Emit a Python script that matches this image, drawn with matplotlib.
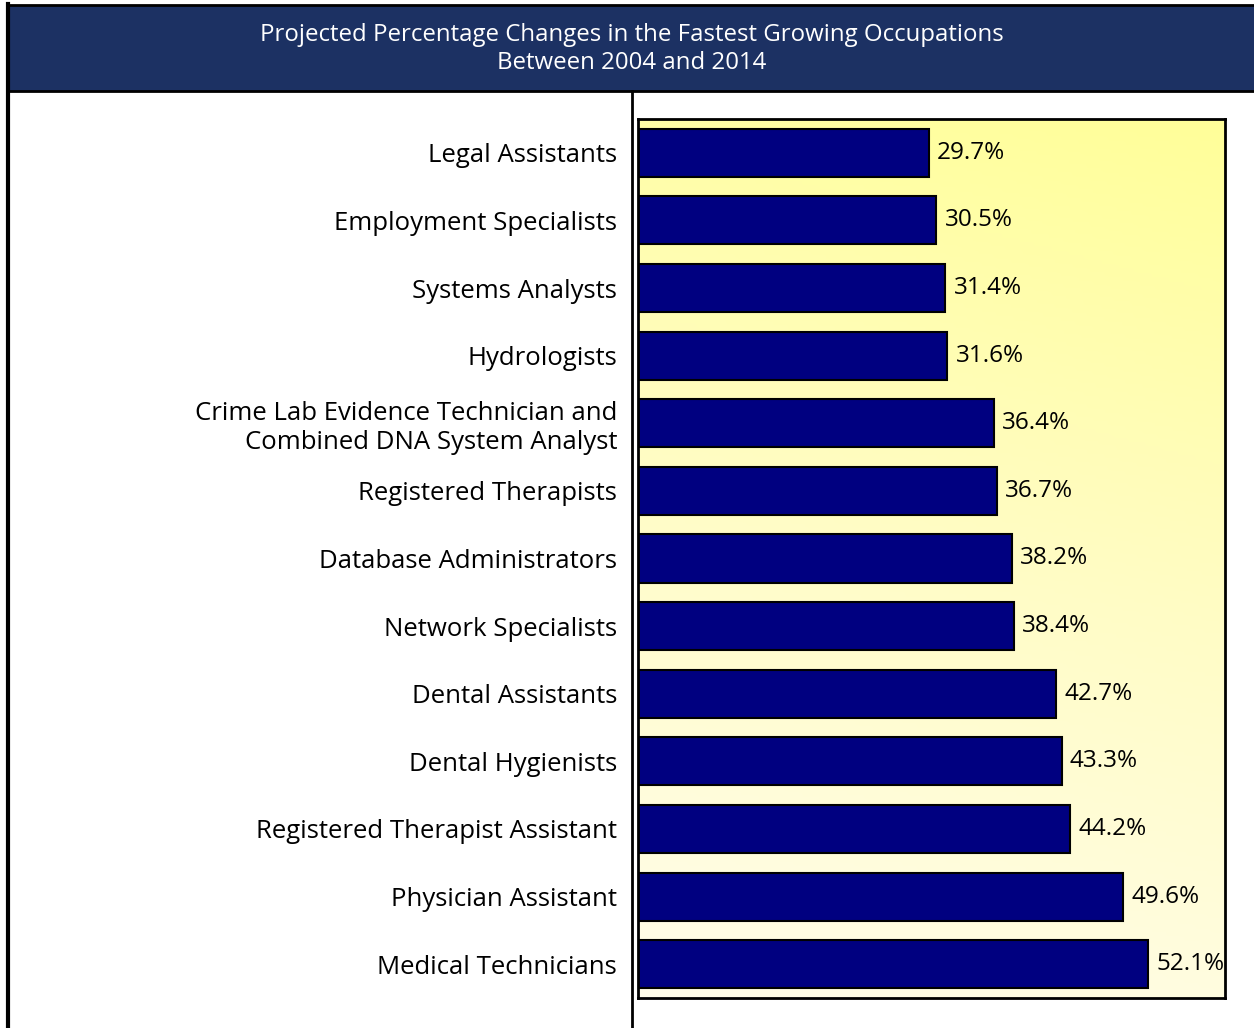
import matplotlib.pyplot as plt
import numpy as np
from matplotlib.colors import LinearSegmentedColormap
from matplotlib.lines import Line2D
from matplotlib.patches import Rectangle

occupations = [
    "Legal Assistants",
    "Employment Specialists",
    "Systems Analysts",
    "Hydrologists",
    "Crime Lab Evidence Technician and\nCombined DNA System Analyst",
    "Registered Therapists",
    "Database Administrators",
    "Network Specialists",
    "Dental Assistants",
    "Dental Hygienists",
    "Registered Therapist Assistant",
    "Physician Assistant",
    "Medical Technicians",
]
pct_change = [29.7, 30.5, 31.4, 31.6, 36.4, 36.7, 38.2, 38.4, 42.7, 43.3, 44.2, 49.6, 52.1]
value_labels = [f"{v:.1f}%" for v in pct_change]

W, H = 1254, 1028
plt.rcParams["font.family"] = ["Open Sans", "DejaVu Sans"]
fig = plt.figure(figsize=(W / 100, H / 100), dpi=100)
fig.patch.set_facecolor("white")


def fx(px):
    return px / W


def fy(py):
    return 1 - py / H


# header band
fig.patches.append(Rectangle((fx(8), fy(91)), fx(W - 8), fy(5) - fy(91),
                             transform=fig.transFigure, facecolor="#1c3163",
                             edgecolor="none", zorder=0))
fig.text(fx(632), fy(49), "Projected Percentage Changes in the Fastest Growing Occupations\nBetween 2004 and 2014",
         ha="center", va="center", color="white", fontsize=17.3, linespacing=1.2)
# frame lines
for xs, ys, lw in [((fx(8), fx(8)), (fy(4), 0), 3),
                   ((fx(8), 1), (fy(5), fy(5)), 2),
                   ((fx(8), 1), (fy(91), fy(91)), 2),
                   ((fx(632), fx(632)), (fy(91), 0), 2)]:
    fig.lines.append(Line2D(xs, ys, transform=fig.transFigure, color="black", lw=lw))

ax = fig.add_axes([fx(638), fy(998), fx(1225 - 638), fy(119) - fy(998)])

# gradient background: yellow at the top, pale ivory towards the bottom-left
gy, gx = np.mgrid[0:1:200j, 0:1:200j]
t = 0.85 * gy + 0.15 * gx
cmap = LinearSegmentedColormap.from_list("bg", ["#fffdea", "#fffcc6", "#ffff99"])
ax.imshow(t, cmap=cmap, origin="lower", extent=[0, 1, 0, 1], transform=ax.transAxes,
          aspect="auto", zorder=0)

y = np.arange(len(occupations))
ax.barh(y, pct_change, height=0.71, color="#000080", edgecolor="black", linewidth=1.5, zorder=2)
for yi, v, lab in zip(y, pct_change, value_labels):
    ax.text(v + 0.85, yi, lab, ha="left", va="center", fontsize=17.5, color="black", zorder=3)

ax.set_xlim(0, 60)
ax.set_ylim(len(occupations) - 0.5, -0.5)
ax.set_yticks(y)
ax.set_yticklabels(occupations, fontsize=18.5, linespacing=1.2)
ax.tick_params(axis="y", length=0, pad=15)
ax.set_xticks([])
for s in ax.spines.values():
    s.set_linewidth(2)
    s.set_color("black")

fig.savefig("out.png", dpi=100)
